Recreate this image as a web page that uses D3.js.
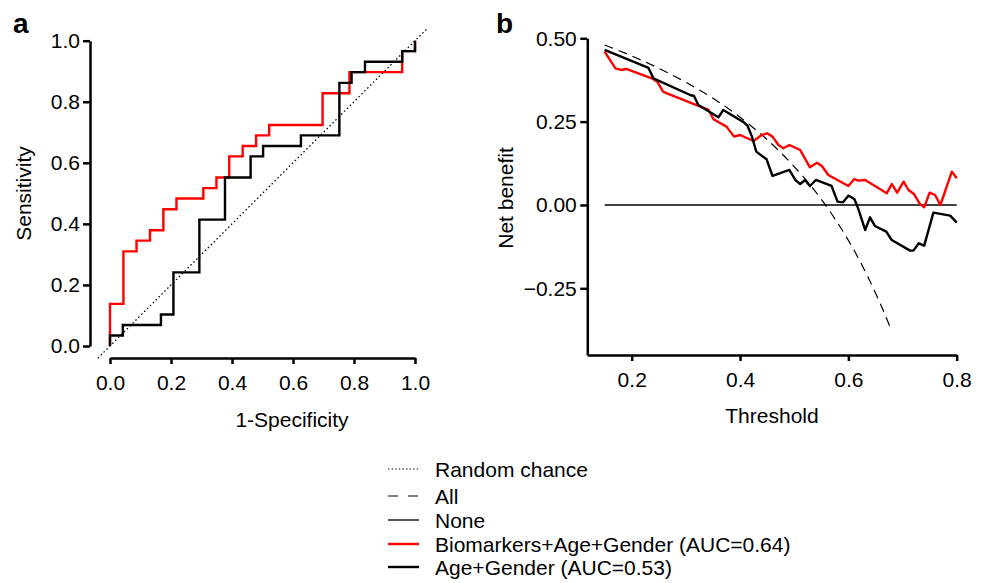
<!DOCTYPE html>
<html>
<head>
<meta charset="utf-8">
<script src="https://cdn.jsdelivr.net/npm/d3@7"></script>
<style>
  body { margin: 0; background: #fff; }
  svg { display: block; }
  text { font-family: Arial, "Liberation Sans", sans-serif; fill: #000; }
</style>
</head>
<body>
<div id="chart"></div>
<script>
// ROC vertices [1-specificity, sensitivity], drawn as steps
const rocBio = [[0,0],[0,0.138],[0.044,0.310],[0.087,0.345],[0.131,0.379],[0.175,0.448],[0.218,0.483],
  [0.306,0.517],[0.349,0.552],[0.391,0.621],[0.435,0.655],[0.479,0.690],[0.522,0.724],[0.697,0.828],
  [0.785,0.897],[0.958,0.966],[1,1]];
const rocAge = [[0,0],[0,0.0345],[0.042,0.069],[0.167,0.103],[0.208,0.241],[0.293,0.414],[0.377,0.552],
  [0.461,0.621],[0.502,0.655],[0.626,0.690],[0.752,0.862],[0.792,0.897],[0.836,0.931],[0.958,0.966],[1,1]];
const chanceLine = [[-0.04,-0.04],[1.04,1.04]];

// decision curve [threshold, net benefit]
const nbAll = [[0.15,0.480],[0.20,0.447],[0.25,0.410],[0.30,0.368],[0.35,0.320],[0.40,0.263],[0.45,0.196],
  [0.50,0.115],[0.55,0.017],[0.575,-0.041],[0.60,-0.106],[0.625,-0.180],[0.65,-0.264],[0.66,-0.300],[0.68,-0.378]];
const nbNone = [[0.15,0],[0.80,0]];
const nbBio = [[0.15,0.46],[0.17,0.41],[0.18,0.405],[0.19,0.408],[0.237,0.38],[0.247,0.37],[0.258,0.34],
  [0.265,0.335],[0.342,0.285],[0.351,0.257],[0.375,0.235],[0.389,0.205],[0.40,0.21],[0.425,0.192],
  [0.44,0.21],[0.45,0.215],[0.46,0.205],[0.471,0.18],[0.48,0.17],[0.491,0.18],[0.511,0.165],[0.529,0.113],
  [0.542,0.127],[0.551,0.117],[0.563,0.09],[0.60,0.057],[0.611,0.078],[0.618,0.073],[0.631,0.075],
  [0.671,0.035],[0.68,0.063],[0.69,0.037],[0.702,0.07],[0.711,0.045],[0.721,0.033],[0.732,0.003],
  [0.74,-0.007],[0.75,0.037],[0.76,0.03],[0.77,0.0],[0.791,0.1],[0.80,0.08]];
const nbAge = [[0.15,0.465],[0.231,0.411],[0.24,0.38],[0.308,0.33],[0.315,0.327],[0.323,0.30],[0.36,0.263],
  [0.369,0.285],[0.406,0.249],[0.414,0.237],[0.422,0.205],[0.43,0.16],[0.449,0.137],[0.46,0.087],
  [0.491,0.105],[0.502,0.075],[0.511,0.063],[0.52,0.075],[0.529,0.057],[0.54,0.075],[0.569,0.057],
  [0.58,0.01],[0.59,0.008],[0.60,0.028],[0.611,0.018],[0.618,-0.01],[0.631,-0.075],[0.64,-0.037],
  [0.649,-0.063],[0.67,-0.08],[0.68,-0.105],[0.714,-0.137],[0.72,-0.137],[0.73,-0.115],[0.74,-0.122],
  [0.757,-0.023],[0.788,-0.032],[0.80,-0.053]];

const rocTicks = [0, 0.2, 0.4, 0.6, 0.8, 1.0];
const nbYTicks = [-0.25, 0, 0.25, 0.5];
const nbXTicks = [0.2, 0.4, 0.6, 0.8];

const legendItems = [
  { label: 'Random chance', kind: 'dot' },
  { label: 'All', kind: 'dash' },
  { label: 'None', kind: 'thin' },
  { label: 'Biomarkers+Age+Gender (AUC=0.64)', kind: 'red' },
  { label: 'Age+Gender (AUC=0.53)', kind: 'black' },
];

const W = 984, H = 583;
const RED = '#ff0000';
const FS = 21;

const svg = d3.select('#chart').append('svg')
  .attr('width', W).attr('height', H).attr('viewBox', `0 0 ${W} ${H}`);

function styleAxis(g) {
  g.select('.domain').attr('stroke', '#000').attr('stroke-width', 2.5);
  g.selectAll('.tick line').attr('stroke', '#000').attr('stroke-width', 2.5);
  g.selectAll('.tick text').attr('font-size', FS).attr('font-family', 'Arial, "Liberation Sans", sans-serif').attr('fill', '#000');
}

// ---------- panel a: ROC ----------
const xA = d3.scaleLinear().domain([0, 1]).range([110, 415]);
const yA = d3.scaleLinear().domain([0, 1]).range([346, 40.7]);

svg.append('g').attr('transform', 'translate(90,0)')
  .call(d3.axisLeft(yA).tickValues(rocTicks).tickFormat(d3.format('.1f')).tickSize(7).tickSizeOuter(0).tickPadding(3))
  .call(styleAxis);
svg.append('g').attr('transform', 'translate(0,358)')
  .call(d3.axisBottom(xA).tickValues(rocTicks).tickFormat(d3.format('.1f')).tickSize(6).tickSizeOuter(0).tickPadding(11))
  .call(styleAxis);

const lineA = d3.line().x(d => xA(d[0])).y(d => yA(d[1]));
svg.append('path').attr('d', lineA(chanceLine))
  .attr('fill', 'none').attr('stroke', '#000').attr('stroke-width', 1.3).attr('stroke-dasharray', '1.5 2.6');
const stepA = d3.line().x(d => xA(d[0])).y(d => yA(d[1])).curve(d3.curveStepAfter);
svg.append('path').attr('d', stepA(rocBio))
  .attr('fill', 'none').attr('stroke', RED).attr('stroke-width', 2.4);
svg.append('path').attr('d', stepA(rocAge))
  .attr('fill', 'none').attr('stroke', '#000').attr('stroke-width', 2.4);

svg.append('text').attr('x', 292).attr('y', 427).attr('text-anchor', 'middle')
  .attr('font-size', FS).text('1-Specificity');
svg.append('text').attr('transform', 'translate(31,193.5) rotate(-90)').attr('text-anchor', 'middle')
  .attr('font-size', FS).text('Sensitivity');
svg.append('text').attr('x', 13).attr('y', 33).attr('font-size', 28).attr('font-weight', 'bold').text('a');

// ---------- panel b: decision curve ----------
const xB = d3.scaleLinear().domain([0.118, 0.8]).range([587.3, 956.7]);
const yB = d3.scaleLinear().domain([-0.45, 0.5]).range([355, 38.3]);

svg.append('g').attr('transform', 'translate(587.3,0)')
  .call(d3.axisLeft(yB).tickValues(nbYTicks).tickFormat(d3.format('.2f')).tickSize(7).tickSizeOuter(0).tickPadding(3.5))
  .call(styleAxis);
svg.append('g').attr('transform', 'translate(0,355)')
  .call(d3.axisBottom(xB).tickValues(nbXTicks).tickFormat(d3.format('.1f')).tickSize(6).tickSizeOuter(0).tickPadding(11))
  .call(styleAxis);

const lineB = d3.line().x(d => xB(d[0])).y(d => yB(d[1]));
svg.append('path').attr('d', lineB(nbNone))
  .attr('fill', 'none').attr('stroke', '#000').attr('stroke-width', 1.3);
svg.append('path').attr('d', lineB.curve(d3.curveMonotoneX)(nbAll))
  .attr('fill', 'none').attr('stroke', '#000').attr('stroke-width', 1.2).attr('stroke-dasharray', '9 6');
lineB.curve(d3.curveLinear);
svg.append('path').attr('d', lineB(nbBio))
  .attr('fill', 'none').attr('stroke', RED).attr('stroke-width', 2.4).attr('stroke-linejoin', 'round');
svg.append('path').attr('d', lineB(nbAge))
  .attr('fill', 'none').attr('stroke', '#000').attr('stroke-width', 2.4).attr('stroke-linejoin', 'round');

svg.append('text').attr('x', 772).attr('y', 423).attr('text-anchor', 'middle')
  .attr('font-size', FS).text('Threshold');
svg.append('text').attr('transform', 'translate(513,198) rotate(-90)').attr('text-anchor', 'middle')
  .attr('font-size', FS).text('Net benefit');
svg.append('text').attr('x', 496).attr('y', 33).attr('font-size', 28).attr('font-weight', 'bold').text('b');

// ---------- legend ----------
const legendY = [469, 496, 520, 544, 567];
const lg = svg.append('g');
legendItems.forEach((it, i) => {
  const y = legendY[i];
  const ln = lg.append('line').attr('x1', 388).attr('x2', 419).attr('y1', y).attr('y2', y).attr('stroke', '#000');
  if (it.kind === 'dot') ln.attr('stroke-width', 1.2).attr('stroke-dasharray', '1.4 2.2');
  else if (it.kind === 'dash') ln.attr('stroke-width', 1.2).attr('stroke-dasharray', '10 10');
  else if (it.kind === 'thin') ln.attr('stroke-width', 1.3);
  else if (it.kind === 'red') ln.attr('stroke-width', 2.4).attr('stroke', RED);
  else ln.attr('stroke-width', 2.4);
  lg.append('text').attr('x', 435).attr('y', y).attr('dy', '0.36em')
    .attr('font-size', FS).text(it.label);
});
</script>
</body>
</html>
